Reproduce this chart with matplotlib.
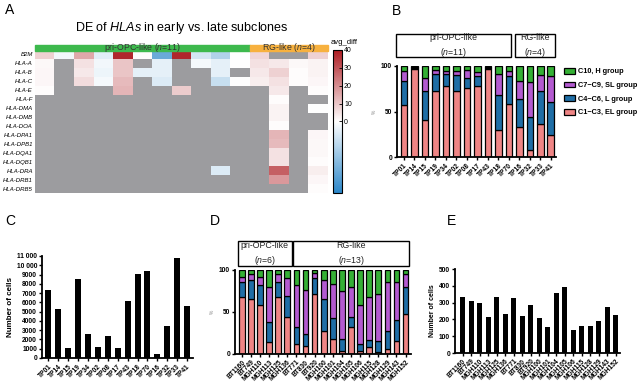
import numpy as np
import matplotlib
matplotlib.use('Agg')
import matplotlib.pyplot as plt
from matplotlib.colors import TwoSlopeNorm, LinearSegmentedColormap
from matplotlib.patches import Rectangle
import matplotlib.transforms as mtrans

plt.rcParams['font.family'] = ['Liberation Sans', 'DejaVu Sans']
plt.rcParams['mathtext.fontset'] = 'custom'
plt.rcParams['mathtext.it'] = 'Liberation Sans:italic'
plt.rcParams['mathtext.rm'] = 'Liberation Sans'

nan = np.nan

# ---- panel A data ----
hla_genes = ['B2M', 'HLA-A', 'HLA-B', 'HLA-C', 'HLA-E', 'HLA-F', 'HLA-DMA', 'HLA-DMB',
             'HLA-DOA', 'HLA-DPA1', 'HLA-DPB1', 'HLA-DQA1', 'HLA-DQB1', 'HLA-DRA',
             'HLA-DRB1', 'HLA-DRB5']
avg_diff = [
    [8, -0.3, 15, -0.7, 38, 0.5, -3.5, 38, -1, -1.8, 0.3, 7, nan, nan, 8],
    [1, nan, 5, -0.3, 10, nan, -0.6, nan, -0.2, -0.6, 0.3, 5, 4, 1, 2],
    [1.5, nan, 4, -0.4, 10, -0.6, -0.6, nan, nan, -0.6, nan, 4, 8, 0.5, 2],
    [1.5, nan, 6, -0.2, 12, nan, -0.8, nan, nan, -1.3, 0.2, 3, 5, 0.5, 1.5],
    [0.5, nan, nan, nan, 13, nan, nan, 9, nan, nan, nan, nan, 4, nan, 0.5],
    [nan, nan, nan, nan, nan, nan, nan, nan, nan, nan, nan, nan, 0.5, nan, nan],
    [nan, nan, nan, nan, nan, nan, nan, nan, nan, nan, nan, nan, 2, nan, 0.3],
    [nan, nan, nan, nan, nan, nan, nan, nan, nan, nan, nan, nan, 2, nan, nan],
    [nan, nan, nan, nan, nan, nan, nan, nan, nan, nan, nan, nan, 0.5, nan, nan],
    [nan, nan, nan, nan, nan, nan, nan, nan, nan, nan, nan, nan, 13, nan, 1.5],
    [nan, nan, nan, nan, nan, nan, nan, nan, nan, nan, nan, nan, 12, nan, 1],
    [nan, nan, nan, nan, nan, nan, nan, nan, nan, nan, nan, nan, 5, nan, 1],
    [nan, nan, nan, nan, nan, nan, nan, nan, nan, nan, nan, nan, 5, nan, 0.5],
    [nan, nan, nan, nan, nan, nan, nan, nan, nan, -0.8, nan, nan, 28, nan, 3],
    [nan, nan, nan, nan, nan, nan, nan, nan, nan, nan, nan, nan, 18, nan, 1.5],
    [nan, nan, nan, nan, nan, nan, nan, nan, nan, nan, nan, nan, nan, nan, 0.5],
]
cbar_ticks = [0, 10, 20, 30, 40]

# ---- panel B / C data (15 tumours) ----
tumours = ['TP01', 'TP14', 'TP15', 'TP19', 'TP34', 'TP02', 'TP08', 'TP17', 'TP43',
           'TP18', 'TP70', 'TP16', 'TP32', 'TP33', 'TP41']
b_el = [57.5, 97, 41, 73, 78, 73, 76, 78, 97, 30, 58.5, 33, 8, 36, 24.5]
b_l = [26, 1, 31, 18, 13, 17, 11, 11, 1, 38, 31, 31, 36.5, 36, 35.5]
b_sl = [10.5, 0.5, 15, 5, 3.5, 5, 9, 4, 0.5, 23.5, 5.5, 19, 37.5, 18, 29.5]
b_h = [6, 1.5, 13, 4, 5.5, 5, 4, 7, 1.5, 8.5, 5, 17, 18, 10, 10.5]
c_cells = [7300, 5300, 1100, 8500, 2600, 1200, 2400, 1050, 6100, 9100, 9400, 400,
           3400, 10800, 5600]
c_ticks = [0, 1000, 2000, 3000, 4000, 5000, 6000, 7000, 8000, 9000, 10000, 11000]
c_ticklabels = ['0', '1000', '2000', '3000', '4000', '5000', '6000', '7000', '8000',
                '9000', '10 000', '11 000']

# ---- panel D / E data (19 tumours) ----
samples = ['BT1160', 'BT749', 'MGH110', 'MGH113', 'MGH125', 'MGH136', 'BT771', 'BT830',
           'BT920', 'MGH100', 'MGH101', 'MGH104', 'MGH105', 'MGH106', 'MGH115',
           'MGH128', 'MGH129', 'MGH143', 'MGH152']
d_el = [68, 66, 58, 14, 68, 44, 12, 10, 71, 27, 18, 3, 32, 4, 8, 2, 6, 15, 48]
d_l = [18, 22, 24, 24, 18, 25, 20, 14, 20, 39, 25, 15, 12, 8, 9, 14, 21, 26, 32]
d_sl = [6, 7, 10, 42, 9, 21, 50, 52, 5, 22, 40, 57, 36, 46, 51, 56, 59, 45, 15]
d_h = [8, 5, 8, 20, 5, 10, 18, 24, 4, 12, 17, 25, 20, 42, 32, 28, 14, 14, 5]
e_cells = [335, 312, 298, 214, 332, 230, 328, 220, 288, 208, 152, 355, 395, 136,
           160, 160, 188, 272, 228]

groups = ['C1\u2212C3, EL group', 'C4\u2212C6, L group', 'C7\u2212C9, SL group',
          'C10, H group']
colors = ['#ef8585', '#1f6ea6', '#b35ad0', '#35b035']

W, H = 639, 385
fig = plt.figure(figsize=(W / 100, H / 100), dpi=100)


def px_axes(x0, y0, x1, y1):
    return fig.add_axes([x0 / W, 1 - y1 / H, (x1 - x0) / W, (y1 - y0) / H])


def prism_style(ax):
    for s in ['top', 'right']:
        ax.spines[s].set_visible(False)
    for s in ['left', 'bottom']:
        ax.spines[s].set_linewidth(1.3)
    ax.tick_params(width=1.0, length=2.5, labelsize=4.8, pad=1)
    for lab in ax.get_yticklabels():
        lab.set_fontweight('bold')


def rot_labels(ax, labels, size=4.8):
    ax.set_xticks(range(len(labels)))
    ax.set_xticklabels(labels, rotation=45, ha='right', rotation_mode='anchor',
                       fontsize=size, fontweight='bold')


def group_box(ax, x0, x1, y0, y1, text):
    tr = mtrans.blended_transform_factory(ax.transData, ax.transAxes)
    ax.add_patch(Rectangle((x0, y0), x1 - x0, y1 - y0, transform=tr, fill=False,
                           lw=1.0, ec='black', clip_on=False))
    ax.text((x0 + x1) / 2, (y0 + y1) / 2, text, transform=tr, ha='center',
            va='center', fontsize=6.3, linespacing=1.45, color='#222222')


def stacked(ax, segs):
    x = np.arange(len(segs[0]))
    bottom = np.zeros(len(x))
    for vals, col, lab in zip(segs, colors, groups):
        ax.bar(x, vals, bottom=bottom, width=0.62, color=col, edgecolor='black',
               linewidth=0.9, label=lab)
        bottom += np.array(vals)


# ---------------- A ----------------
fig.text(5 / W, 1 - 14 / H, 'A', fontsize=10)
axA = px_axes(35, 50, 328, 193)
cmap = LinearSegmentedColormap.from_list(
    'bwr_soft', [(0.0, '#2b86c8'), (0.5, '#ffffff'), (1.0, '#ad1c22')])
cmap.set_bad('#9c9c9f')
norm = TwoSlopeNorm(vmin=-5, vcenter=0, vmax=40)
data = np.ma.masked_invalid(np.array(avg_diff, dtype=float))
im = axA.imshow(data, aspect='auto', cmap=cmap, norm=norm, interpolation='nearest')
axA.set_yticks(range(len(hla_genes)))
axA.set_yticklabels(hla_genes, fontsize=4.3, style='italic')
axA.set_xticks([])
axA.tick_params(length=0, pad=1.5)
for s in axA.spines.values():
    s.set_visible(False)
axA.add_patch(Rectangle((-0.5, -1.05), 11, 0.62, color='#3db94d', clip_on=False))
axA.add_patch(Rectangle((10.5, -1.05), 4, 0.62, color='#f7b13f', clip_on=False))
axA.text(5, -0.8, r'pri-OPC-like ($n$=11)', ha='center', va='center', fontsize=6.3,
         color='#333333')
axA.text(12.5, -0.8, r'RG-like ($n$=4)', ha='center', va='center', fontsize=6.3,
         color='#333333')
axA.set_title(r'DE of $\it{HLAs}$ in early vs. late subclones', fontsize=9, pad=14)

cax = px_axes(333, 50, 342, 193)
cb = fig.colorbar(im, cax=cax, ticks=cbar_ticks)
cb.outline.set_linewidth(0.8)
cax.tick_params(labelsize=5, length=2, width=0.6, pad=1.5, direction='in')
fig.text(331 / W, 1 - 44 / H, 'avg_diff', fontsize=5.5)

# ---------------- B ----------------
fig.text(392 / W, 1 - 15 / H, 'B', fontsize=10)
axB = px_axes(397, 66, 556, 157)
stacked(axB, [b_el, b_l, b_sl, b_h])
axB.set_xlim(-0.65, 14.5)
axB.set_ylim(0, 100)
axB.set_yticks([0, 50, 100])
axB.set_ylabel('%', fontsize=3.5, color='#888888', labelpad=3)
rot_labels(axB, tumours)
prism_style(axB)
group_box(axB, -0.75, 10.25, 1.10, 1.35, 'pri-OPC-like\n' + r'($n$=11)')
group_box(axB, 10.55, 14.4, 1.10, 1.35, 'RG-like\n' + r'($n$=4)')
hnd, lbl = axB.get_legend_handles_labels()
axB.legend(hnd[::-1], lbl[::-1], loc='upper left', bbox_to_anchor=(1.01, 1.05),
           frameon=False, prop={'size': 5.3, 'weight': 'bold'}, handlelength=1.4,
           handleheight=0.8, labelspacing=0.85, handletextpad=0.5)

# ---------------- C ----------------
fig.text(5 / W, 1 - 225 / H, 'C', fontsize=10)
axC = px_axes(42, 256, 193, 358)
axC.bar(range(len(tumours)), c_cells, width=0.6, color='black')
axC.set_xlim(-0.65, 14.6)
axC.set_ylim(0, 11000)
axC.set_yticks(c_ticks)
axC.set_yticklabels(c_ticklabels)
axC.set_ylabel('Number of cells', fontsize=5.8, fontweight='bold', labelpad=2)
rot_labels(axC, tumours)
prism_style(axC)

# ---------------- D ----------------
fig.text(210 / W, 1 - 225 / H, 'D', fontsize=10)
axD = px_axes(235, 270, 411, 354)
stacked(axD, [d_el, d_l, d_sl, d_h])
axD.set_xlim(-0.75, 18.6)
axD.set_ylim(0, 100)
axD.set_yticks([0, 50, 100])
axD.set_ylabel('%', fontsize=3.5, color='#888888', labelpad=3)
rot_labels(axD, samples, size=4.5)
prism_style(axD)
group_box(axD, -0.45, 5.5, 1.05, 1.34, 'pri-OPC-like\n' + r'($n$=6)')
group_box(axD, 5.65, 18.4, 1.05, 1.34, 'RG-like\n' + r'($n$=13)')

# ---------------- E ----------------
fig.text(447 / W, 1 - 225 / H, 'E', fontsize=10)
axE = px_axes(455, 269, 620, 353)
axE.bar(range(len(samples)), e_cells, width=0.6, color='black')
axE.set_xlim(-0.9, 18.5)
axE.set_ylim(0, 500)
axE.set_yticks([0, 100, 200, 300, 400, 500])
axE.set_ylabel('Number of cells', fontsize=5, fontweight='bold', labelpad=2)
rot_labels(axE, samples, size=4.5)
prism_style(axE)

fig.savefig('out.png', dpi=100)
